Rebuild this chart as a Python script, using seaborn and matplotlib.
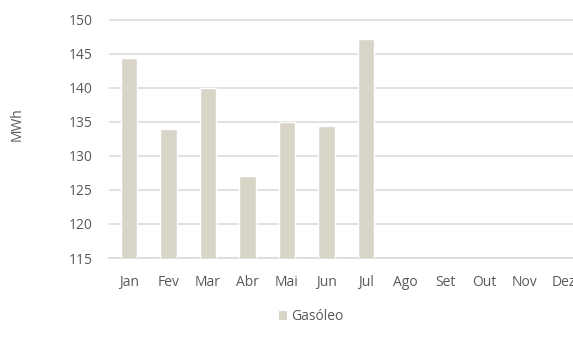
import matplotlib
matplotlib.use("Agg")
import matplotlib.pyplot as plt
import seaborn as sns
import pandas as pd
from matplotlib.patches import Patch

months = ["Jan", "Fev", "Mar", "Abr", "Mai", "Jun", "Jul", "Ago", "Set", "Out", "Nov", "Dez"]
gasoleo = [144.4, 133.9, 140.0, 127.0, 135.0, 134.4, 147.2, None, None, None, None, None]
y_ticks = [115, 120, 125, 130, 135, 140, 145, 150]

sns.set_theme(style="white")
plt.rcParams["font.family"] = ["Open Sans", "DejaVu Sans"]

bar_color = "#d8d5c8"
text_color = "#595959"
grid_color = "#d9d9d9"

df = pd.DataFrame({"Mês": months, "MWh": gasoleo})

fig = plt.figure(figsize=(5.73, 3.52), dpi=100)
ax = fig.add_axes([109.25 / 573, 1 - 258 / 352, 474 / 573, (258 - 19.5) / 352])

sns.barplot(data=df, x="Mês", y="MWh", order=months, color=bar_color,
            width=0.41, saturation=1, ax=ax, zorder=3)

ax.set_ylim(115, 150)
ax.set_yticks(y_ticks)
ax.set_xlim(-0.5, len(months) - 0.5)
ax.yaxis.grid(True, color=grid_color, linewidth=1.1, zorder=0)
ax.set_axisbelow(True)
for s in ["top", "right", "left"]:
    ax.spines[s].set_visible(False)
ax.spines["bottom"].set_color(grid_color)
ax.spines["bottom"].set_linewidth(1.1)

ax.tick_params(axis="both", length=0, labelsize=10, labelcolor=text_color)
ax.tick_params(axis="y", pad=12)
ax.tick_params(axis="x", pad=12)
ax.set_xlabel("")
ax.set_ylabel("")
fig.text(17 / 573, 1 - 124 / 352, "MWh", rotation=90, ha="center", va="center",
         fontsize=10, color=text_color)

fig.legend(handles=[Patch(facecolor=bar_color, edgecolor="none", label="Gasóleo")],
           loc="center", bbox_to_anchor=(311 / 573, 1 - 317 / 352), frameon=False,
           fontsize=10, labelcolor=text_color, handlelength=0.6, handleheight=0.6,
           handletextpad=0.3)

fig.savefig("out.png", dpi=100)
